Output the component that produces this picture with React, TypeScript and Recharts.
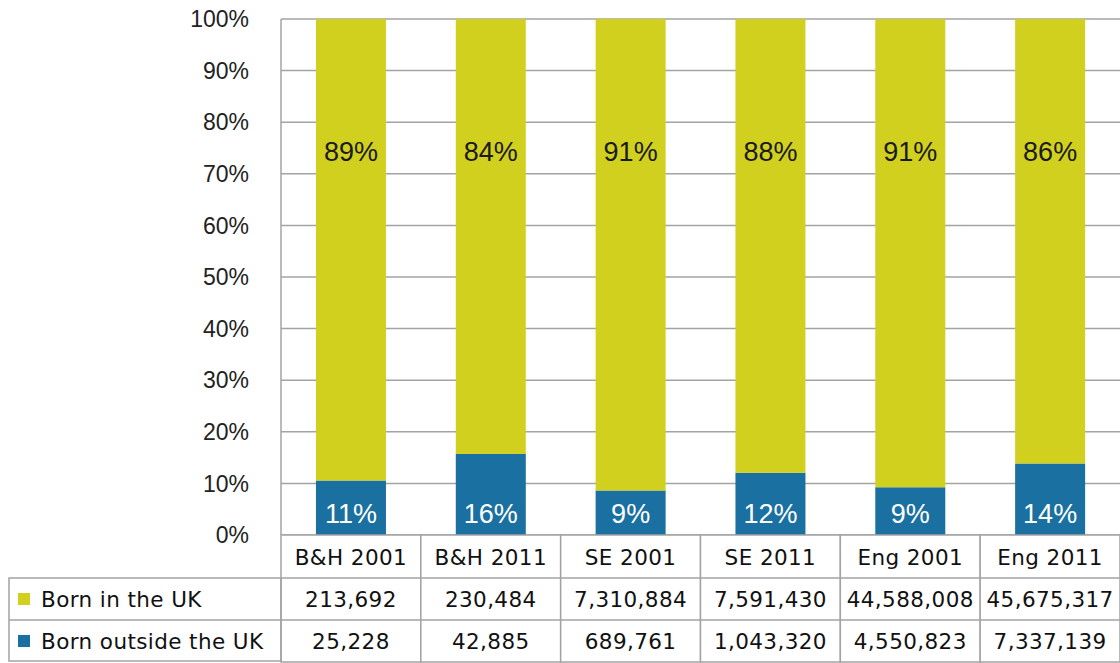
import React from 'react';
import { BarChart, Bar, XAxis, YAxis, CartesianGrid, LabelList } from 'recharts';

const categories = ['B&H 2001', 'B&H 2011', 'SE 2001', 'SE 2011', 'Eng 2001', 'Eng 2011'];
const bornInUK = [213692, 230484, 7310884, 7591430, 44588008, 45675317];
const bornOutsideUK = [25228, 42885, 689761, 1043320, 4550823, 7337139];
const yTicks = [0, 0.1, 0.2, 0.3, 0.4, 0.5, 0.6, 0.7, 0.8, 0.9, 1];

const seriesNames = ['Born in the UK', 'Born outside the UK'];
const seriesColors = ['#d1d01f', '#1a70a0'];

const W = 1120;
const H = 663;
const PLOT_LEFT = 281;
const PLOT_TOP = 19;
const TABLE_H = 128;
const HEAD_H = 43;
const ROW_H = 42;
const LINE = '#a3a3a3';
const TABLE_FONT = '"DejaVu Sans", Verdana, sans-serif';
const CHART_FONT = '"Liberation Sans", Arial, sans-serif';
const tableText = { fontFamily: TABLE_FONT, fontSize: 21.5, letterSpacing: 0.4, fill: '#111' };

const data = categories.map((name, i) => ({
  name,
  inUK: bornInUK[i],
  outUK: bornOutsideUK[i],
}));

const pct = (a: number, b: number) => `${Math.round((a / (a + b)) * 100)}%`;
const fmt = (n: number) => n.toLocaleString('en-US');

// x axis tick = one column of the data table
const TableTick = (props: any) => {
  const { x, y, payload } = props;
  const i = categories.indexOf(payload.value);
  const band = (W - PLOT_LEFT) / categories.length;
  const left = x - band / 2;
  return (
    <g>
      <rect x={left} y={y} width={band} height={TABLE_H - 1} fill="#fff" stroke={LINE} strokeWidth={1.5} />
      <line x1={left} x2={left + band} y1={y + HEAD_H} y2={y + HEAD_H} stroke={LINE} strokeWidth={1.5} />
      <line x1={left} x2={left + band} y1={y + HEAD_H + ROW_H} y2={y + HEAD_H + ROW_H} stroke={LINE} strokeWidth={1.5} />
      <text x={x} y={y + HEAD_H / 2 + 1} textAnchor="middle" dominantBaseline="central" style={tableText}>
        {payload.value}
      </text>
      <text x={x} y={y + HEAD_H + ROW_H / 2} textAnchor="middle" dominantBaseline="central" style={tableText}>
        {fmt(bornInUK[i])}
      </text>
      <text x={x} y={y + HEAD_H + ROW_H + ROW_H / 2} textAnchor="middle" dominantBaseline="central" style={tableText}>
        {fmt(bornOutsideUK[i])}
      </text>
    </g>
  );
};

const topLabel = (props: any) => {
  const { x, y, width, index } = props;
  return (
    <text x={x + width / 2} y={y + 133} textAnchor="middle" dominantBaseline="central"
      style={{ fontFamily: CHART_FONT, fontSize: 27, fill: '#1a1a1a' }}>
      {pct(bornInUK[index], bornOutsideUK[index])}
    </text>
  );
};

const bottomLabel = (props: any) => {
  const { x, y, width, height, index } = props;
  return (
    <text x={x + width / 2} y={y + height - 21} textAnchor="middle" dominantBaseline="central"
      style={{ fontFamily: CHART_FONT, fontSize: 27, fill: '#ffffff' }}>
      {pct(bornOutsideUK[index], bornInUK[index])}
    </text>
  );
};

export default function App() {
  const legendTop = H - TABLE_H + HEAD_H;
  return (
    <div style={{ position: 'relative', width: W, height: H }}>
      <style>{'body{margin:0}'}</style>
      <BarChart
        width={W}
        height={H}
        data={data}
        stackOffset="expand"
        barCategoryGap="25%"
        margin={{ top: PLOT_TOP, right: 0, bottom: 0, left: PLOT_LEFT - 90 }}
      >
        <CartesianGrid vertical={false} stroke={LINE} strokeWidth={1.5} strokeOpacity={1} />
        <YAxis
          width={90}
          domain={[0, 1]}
          ticks={yTicks}
          interval={0}
          tickFormatter={(v: number) => `${Math.round(v * 100)}%`}
          axisLine={{ stroke: LINE, strokeWidth: 1.5 }}
          tickLine={false}
          tickMargin={26}
          tick={{ fontFamily: CHART_FONT, fontSize: 23, fill: '#222' }}
        />
        <XAxis
          dataKey="name"
          height={TABLE_H}
          axisLine={false}
          tickLine={false}
          tickSize={0}
          tickMargin={0}
          interval={0}
          tick={<TableTick />}
        />
        <Bar dataKey="outUK" name={seriesNames[1]} stackId="a" fill={seriesColors[1]} isAnimationActive={false}>
          <LabelList dataKey="outUK" content={bottomLabel} />
        </Bar>
        <Bar dataKey="inUK" name={seriesNames[0]} stackId="a" fill={seriesColors[0]} isAnimationActive={false}>
          <LabelList dataKey="inUK" content={topLabel} />
        </Bar>
      </BarChart>
      <svg width={W} height={H} style={{ position: 'absolute', left: 0, top: 0, pointerEvents: 'none' }}>
        <rect x={9} y={legendTop} width={PLOT_LEFT - 9} height={ROW_H * 2 - 1} fill="none" stroke={LINE} strokeWidth={1.5} />
        <line x1={9} x2={PLOT_LEFT} y1={legendTop + ROW_H} y2={legendTop + ROW_H} stroke={LINE} strokeWidth={1.5} />
        {seriesNames.map((s, i) => (
          <g key={s}>
            <rect x={18} y={legendTop + ROW_H * i + ROW_H / 2 - 6} width={12} height={12} fill={seriesColors[i]} />
            <text x={41} y={legendTop + ROW_H * i + ROW_H / 2} dominantBaseline="central" style={tableText}>
              {s}
            </text>
          </g>
        ))}
      </svg>
    </div>
  );
}
